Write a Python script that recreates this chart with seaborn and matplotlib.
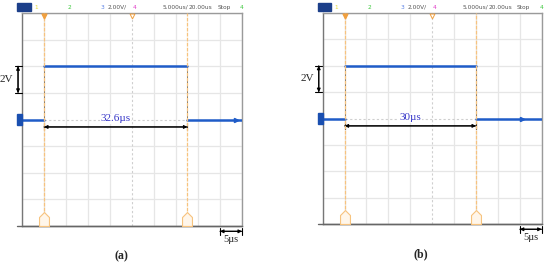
import seaborn as sns
import matplotlib.pyplot as plt
import pandas as pd

# screen: 10 div x 5us, 8 div x 2V
panel_labels = ['(a)', '(b)']
pulse_start = [5.0, 5.0]          # us
pulse_width = [32.6, 30.0]        # us
width_labels = ['32.6\u00b5s', '30\u00b5s']
low_level = 0.0                   # V
high_level = 4.0                  # V
trace_end_mark = [48.6, 45.5]     # small arrow on the trace
header_items = [('1', 3.2, '#e6dc3c'), ('2', 10.7, '#3cc83c'), ('3', 18.2, '#5a82e6'),
                ('2.00V/', 21.6, '#555555'), ('4', 25.5, '#e03cc8'),
                ('5.000us/', 34.8, '#555555'), ('20.00us', 40.5, '#555555'),
                ('Stop', 45.9, '#555555'), ('4', 50.0, '#3cc83c')]

sns.set_style('white')
plt.rcParams['font.family'] = ['Liberation Serif', 'DejaVu Serif']

fig = plt.figure(figsize=(5.5, 2.64), dpi=100)
axes = [fig.add_axes([22/550, 38/264, 220/550, 213/264]),
        fig.add_axes([322.7/550, 40/264, 219/550, 211/264])]

trace_col = '#1f5cc8'
cursor_col = '#f7c37e'
house = [(-1, -1.4), (1, -1.4), (1, 0.4), (0, 1.4), (-1, 0.4), (-1, -1.4)]


def double_arrow(ax, p0, p1):
    # arrow heads plus end bars, like |<->|
    for style, ms in (('<|-|>', 5), ('|-|', 2.5)):
        ax.annotate('', xy=p0, xytext=p1, annotation_clip=False,
                    arrowprops=dict(arrowstyle=style, color='black', lw=0.8,
                                    mutation_scale=ms, shrinkA=0, shrinkB=0))


for i, ax in enumerate(axes):
    t0 = pulse_start[i]
    t1 = t0 + pulse_width[i]
    df = pd.DataFrame({
        't': [0, t0, t0, t1, t1, 50],
        'v': [low_level, low_level, high_level, high_level, low_level, low_level],
        'seg': [0, 0, 1, 1, 2, 2],
    })
    ax.set_xlim(0, 50)
    ax.set_ylim(-8, 8)
    ax.set_xticks([0, 5, 10, 15, 20, 30, 35, 40, 45, 50])
    ax.set_yticks([-8, -6, -4, -2, 2, 4, 6, 8])
    ax.grid(True, color='#e6e6e6', lw=0.9)
    ax.tick_params(length=0, labelbottom=False, labelleft=False)
    ax.axvline(25, color='#cfcfcf', lw=0.8, ls=(0, (2, 2)))
    ax.axhline(0, color='#cfcfcf', lw=0.8, ls=(0, (2, 2)))
    for side, c in [('left', '#777777'), ('bottom', '#666666'), ('top', '#9a9a9a'), ('right', '#9a9a9a')]:
        ax.spines[side].set_color(c)
        ax.spines[side].set_linewidth(1.0)
    ax.plot([-1.1, 50], [-8, -8], color='#666666', lw=1.0, clip_on=False)

    # edges
    ax.vlines([t0, t1], low_level, high_level, color='#555555', lw=0.6, zorder=3)
    sns.lineplot(data=df, x='t', y='v', units='seg', estimator=None, sort=False,
                 color=trace_col, lw=1.8, ax=ax, zorder=4)
    ax.set_xlabel('')
    ax.set_ylabel('')
    ax.plot(trace_end_mark[i], low_level, marker='>', ms=3, color=trace_col, zorder=5)

    # cursors
    for tc in (t0, t1):
        ax.axvline(tc, color=cursor_col, lw=0.9, ls=(0, (3, 1)), zorder=5)
        ax.plot(tc, -7.5, marker=house, ms=10, mfc='#fff6ea', mec=cursor_col, mew=0.8, zorder=6)
    ax.plot(t0, 7.8, marker='v', ms=3.5, color='#f0a040', clip_on=False, zorder=6)
    ax.plot(25, 7.8, marker='v', ms=3.5, mfc='white', mec='#f0a040', mew=0.7, clip_on=False, zorder=6)

    # channel marker and header
    ax.add_patch(plt.Rectangle((-1.15, -0.45), 1.15, 0.9, color='#1a4fb0', clip_on=False, zorder=6))
    ax.add_patch(plt.Rectangle((-1.1, 8.15), 3.1, 0.6, color='#1c3f8a', clip_on=False))
    for txt, tx, c in header_items:
        ax.text(tx, 8.45, txt, color=c, fontsize=4.2, ha='center', va='center',
                family='DejaVu Sans', clip_on=False)

    # 2V bracket
    double_arrow(ax, (-0.9, 2), (-0.9, 4))
    ax.text(-3.6, 3, '2V', fontsize=8, ha='center', va='center', clip_on=False)

    # pulse width
    double_arrow(ax, (t0, -0.56), (t1, -0.56))
    ax.text((t0 + t1) / 2, 0.05, width_labels[i], color='#3535c8', fontsize=8,
            ha='center', va='center', zorder=6,
            bbox=dict(facecolor='white', edgecolor='none', pad=0.5))

    # 5us scale bar
    double_arrow(ax, (45, -8.4), (50, -8.4))
    ax.text(47.5, -9.05, '5\u00b5s', fontsize=7.5, ha='center', va='center', clip_on=False)

    ax.text(22.5, -10.3, panel_labels[i], fontsize=8.5, fontweight='bold',
            ha='center', va='center', clip_on=False)

fig.savefig('out.png', dpi=100)
